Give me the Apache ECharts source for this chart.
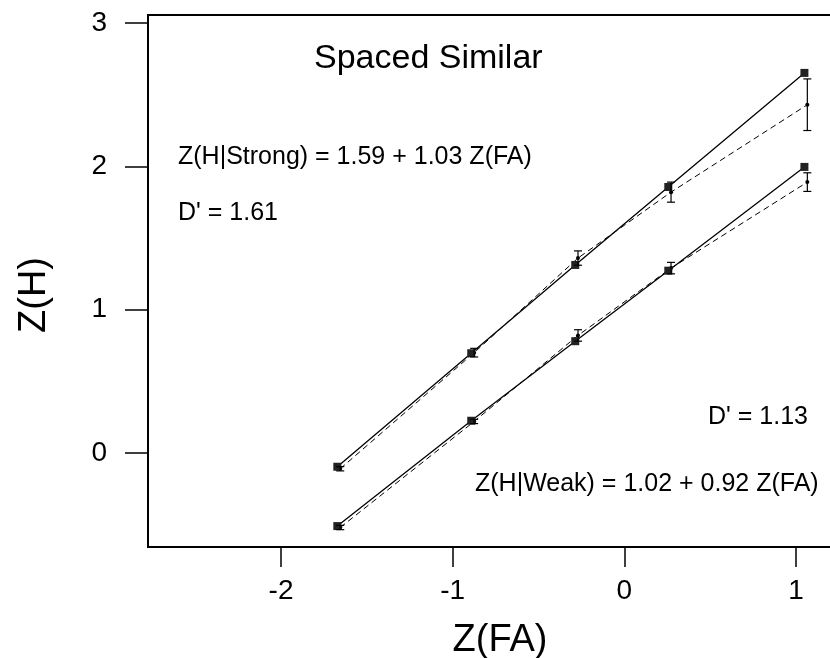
<!DOCTYPE html>
<html><head><meta charset="utf-8">
<script src="https://cdn.jsdelivr.net/npm/echarts@6/dist/echarts.min.js"></script>
<style>html,body{margin:0;padding:0;background:#fff}#c{width:830px;height:658px}</style>
</head><body><div id="c"></div>
<script>
const xTicks = [-2, -1, 0, 1];
const yTicks = [0, 1, 2, 3];
const strongFitX = [-1.672, -0.892, -0.286, 0.256, 1.049];
const strongFitY = [-0.096, 0.696, 1.312, 1.856, 2.652];
const weakFitX = [-1.672, -0.892, -0.286, 0.256, 1.049];
const weakFitY = [-0.51, 0.225, 0.78, 1.272, 1.996];
const strongObsX = [-1.655, -0.875, -0.27, 0.272, 1.066];
const strongObsY = [-0.11, 0.70, 1.36, 1.82, 2.43];
const strongObsErr = [0.015, 0.03, 0.05, 0.07, 0.18];
const weakObsX = [-1.655, -0.875, -0.27, 0.272, 1.066];
const weakObsY = [-0.52, 0.22, 0.82, 1.29, 1.89];
const weakObsErr = [0.015, 0.015, 0.04, 0.04, 0.065];

const FONT = 'Liberation Sans, Arial, sans-serif';
const pairs = (xs, ys) => xs.map((x, i) => [x, ys[i]]);

function errSeries(xs, ys, es) {
  return {
    type: 'custom',
    data: xs.map((x, i) => [x, ys[i] - es[i], ys[i] + es[i]]),
    renderItem: (params, api) => {
      const lo = api.coord([api.value(0), api.value(1)]);
      const hi = api.coord([api.value(0), api.value(2)]);
      const w = 4;
      const st = { stroke: '#000', lineWidth: 1.2 };
      return { type: 'group', children: [
        { type: 'line', shape: { x1: lo[0], y1: lo[1], x2: hi[0], y2: hi[1] }, style: st },
        { type: 'line', shape: { x1: lo[0] - w, y1: lo[1], x2: lo[0] + w, y2: lo[1] }, style: st },
        { type: 'line', shape: { x1: hi[0] - w, y1: hi[1], x2: hi[0] + w, y2: hi[1] }, style: st }
      ] };
    },
    z: 4
  };
}
function fitSeries(xs, ys) {
  return { type: 'line', data: pairs(xs, ys), symbol: 'rect', symbolSize: 8,
    itemStyle: { color: '#222' }, lineStyle: { color: '#000', width: 1.3 }, z: 3 };
}
function obsSeries(xs, ys) {
  return { type: 'line', data: pairs(xs, ys), symbol: 'circle', symbolSize: 4,
    itemStyle: { color: '#000' }, lineStyle: { color: '#000', width: 1, type: [6, 4] }, z: 2 };
}

const chart = echarts.init(document.getElementById('c'));
const txt = (s, x, y, size, align) => ({ type: 'text', x: x, y: y,
  style: { text: s, font: size + 'px ' + FONT, fill: '#000', align: align || 'left', verticalAlign: 'middle' } });

chart.setOption({
  animation: false,
  backgroundColor: '#fff',
  grid: { left: 148, top: 15, width: 699.5, height: 532, show: true, borderColor: '#000', borderWidth: 2,
          outerBoundsMode: 'none', containLabel: false },
  xAxis: {
    type: 'value', min: -2.775, max: 1.3,
    axisLine: { onZero: false, lineStyle: { color: '#000', width: 2 } },
    axisTick: { customValues: xTicks, length: 20, lineStyle: { color: '#000', width: 1.5 } },
    axisLabel: { customValues: xTicks, fontSize: 28, color: '#000', margin: 30, fontFamily: FONT },
    splitLine: { show: false }
  },
  yAxis: {
    type: 'value', min: -0.656, max: 3.056,
    axisLine: { onZero: false, lineStyle: { color: '#000', width: 2 } },
    axisTick: { customValues: yTicks, length: 23, lineStyle: { color: '#000', width: 1.5 } },
    axisLabel: { customValues: yTicks, fontSize: 28, color: '#000', margin: 41, fontFamily: FONT },
    splitLine: { show: false }
  },
  graphic: [
    txt('Spaced Similar', 314, 59, 34),
    txt('Z(H|Strong) = 1.59 + 1.03 Z(FA)', 178, 157, 25),
    txt("D' = 1.61", 178, 213, 25),
    txt("D' = 1.13", 708, 417, 25),
    txt('Z(H|Weak) = 1.02 + 0.92 Z(FA)', 475, 484, 25),
    txt('Z(FA)', 500, 641, 38, 'center'),
    Object.assign(txt('Z(H)', 35, 295, 38, 'center'), { rotation: Math.PI / 2 })
  ],
  series: [
    obsSeries(strongObsX, strongObsY),
    obsSeries(weakObsX, weakObsY),
    errSeries(strongObsX, strongObsY, strongObsErr),
    errSeries(weakObsX, weakObsY, weakObsErr),
    fitSeries(strongFitX, strongFitY),
    fitSeries(weakFitX, weakFitY)
  ]
});
</script></body></html>
